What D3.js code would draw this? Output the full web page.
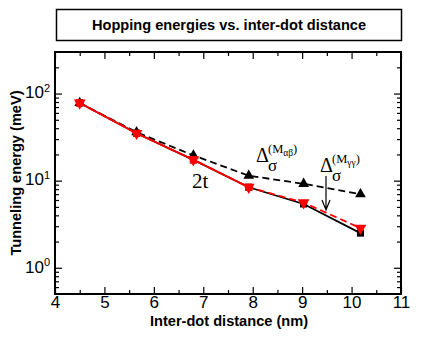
<!DOCTYPE html>
<html>
<head>
<meta charset="utf-8">
<script src="https://cdn.jsdelivr.net/npm/d3@7"></script>
<style>
  body { margin: 0; background: #fff; }
  svg { display: block; font-family: "Liberation Sans", Arial, sans-serif; }
</style>
</head>
<body>
<div id="chart"></div>
<script>
// data
const distances = [4.5, 5.65, 6.8, 7.92, 9.03, 10.18];
const twoT = [78, 35, 17.3, 8.4, 5.4, 2.5];          // black solid, squares
const twoTRed = [78, 35, 17.4, 8.4];                  // red solid, squares
const deltaGG = [78, 35, 17.4, 8.4, 5.6, 2.85];       // red dashed, down triangles
const deltaAB = [78, 36, 19.5, 11.4, 9.2, 7.0];       // black dashed, up triangles
const xTicks = [4, 5, 6, 7, 8, 9, 10, 11];
const yTicks = [1, 10, 100];
const yExp = ["0", "1", "2"];

(function () {
    const w = 448;
    const h = 346;
    const left = 55, right = 401, top = 52, bottom = 294;
    const sans = "'Liberation Sans', Arial, sans-serif";
    const serif = "'Liberation Serif', 'Times New Roman', 'DejaVu Serif', serif";

    const x = d3.scaleLinear().domain([4, 11]).range([left, right]);
    const y = d3.scaleLog().domain([0.5, 300]).range([bottom, top]);

    const svg = d3.select("#chart")
        .append("svg")
        .attr("width", w)
        .attr("height", h);

    // title box
    svg.append("rect")
        .attr("x", 56.5).attr("y", 9.5)
        .attr("width", 345).attr("height", 31)
        .attr("fill", "none").attr("stroke", "#000").attr("stroke-width", 1.5);
    svg.append("text")
        .text("Hopping energies vs. inter-dot distance")
        .attr("x", 229).attr("y", 30)
        .attr("text-anchor", "middle")
        .style("font-family", sans)
        .style("font-size", "14.6px").style("font-weight", "bold");

    // minor tick values
    const xMinor = d3.range(4.5, 11, 1);
    const yMinor = [];
    [0.1, 1, 10, 100].forEach(b => {
        for (let k = 2; k <= 9; k++) {
            const v = b * k;
            if (v > 0.5 && v < 300 && v !== 1 && v !== 10 && v !== 100) yMinor.push(v);
        }
    });

    function tickAxis(axis, g) {
        g.call(axis);
        g.select(".domain").remove();
        g.selectAll(".tick line").attr("stroke", "#000").attr("stroke-width", 1.2);
    }

    // bottom axis
    const gx = svg.append("g").attr("transform", `translate(0,${bottom})`);
    tickAxis(d3.axisBottom(x).tickValues(xTicks).tickSize(-7).tickPadding(2)
        .tickFormat(d3.format("d")), gx);
    gx.selectAll("text").attr("fill", "#000")
        .style("font-size", "17px").style("font-family", sans);
    tickAxis(d3.axisBottom(x).tickValues(xMinor).tickSize(-4).tickFormat(""),
        svg.append("g").attr("transform", `translate(0,${bottom})`));

    // top axis
    tickAxis(d3.axisTop(x).tickValues(xTicks).tickSize(-7).tickFormat(""),
        svg.append("g").attr("transform", `translate(0,${top})`));
    tickAxis(d3.axisTop(x).tickValues(xMinor).tickSize(-4).tickFormat(""),
        svg.append("g").attr("transform", `translate(0,${top})`));

    // left axis
    const gy = svg.append("g").attr("transform", `translate(${left},0)`);
    tickAxis(d3.axisLeft(y).tickValues(yTicks).tickSize(-7).tickPadding(5).tickFormat(""), gy);
    gy.selectAll(".tick text").each(function (d, i) {
        const t = d3.select(this)
            .attr("fill", "#000")
            .style("font-size", "17px").style("font-family", sans);
        t.append("tspan").text("10").attr("dy", "0.25em");
        t.append("tspan").text(yExp[i]).style("font-size", "11px").attr("dy", "-0.55em");
    });
    tickAxis(d3.axisLeft(y).tickValues(yMinor).tickSize(-4).tickFormat(""),
        svg.append("g").attr("transform", `translate(${left},0)`));

    // right axis
    tickAxis(d3.axisRight(y).tickValues(yTicks).tickSize(-7).tickFormat(""),
        svg.append("g").attr("transform", `translate(${right},0)`));
    tickAxis(d3.axisRight(y).tickValues(yMinor).tickSize(-4).tickFormat(""),
        svg.append("g").attr("transform", `translate(${right},0)`));

    // frame
    svg.append("rect")
        .attr("x", left).attr("y", top)
        .attr("width", right - left).attr("height", bottom - top)
        .attr("fill", "none").attr("stroke", "#000").attr("stroke-width", 2);

    // axis titles
    svg.append("text")
        .text("Inter-dot distance (nm)")
        .attr("x", 229).attr("y", 326)
        .attr("text-anchor", "middle")
        .style("font-family", sans)
        .style("font-size", "14.6px").style("font-weight", "bold");
    svg.append("text")
        .text("Tunneling energy (meV)")
        .attr("transform", "translate(21,173) rotate(-90)")
        .attr("text-anchor", "middle")
        .style("font-family", sans)
        .style("font-size", "14.6px").style("font-weight", "bold");

    // series
    const line = d3.line().x(d => x(d[0])).y(d => y(d[1]));
    function series(vals, color, dash, symbol, rot, size) {
        const pts = vals.map((v, i) => [distances[i], v]);
        svg.append("path")
            .attr("d", line(pts))
            .attr("fill", "none")
            .attr("stroke", color)
            .attr("stroke-width", 1.8)
            .attr("stroke-dasharray", dash);
        svg.append("g").selectAll("path")
            .data(pts)
            .enter()
            .append("path")
            .attr("d", d3.symbol().type(symbol).size(size))
            .attr("transform", d => `translate(${x(d[0])},${y(d[1])}) rotate(${rot})`)
            .attr("fill", color);
    }
    series(deltaAB, "#000", "7,4", d3.symbolTriangle, 0, 50);
    series(twoT, "#000", null, d3.symbolSquare, 0, 50);
    series(deltaGG, "#ff0000", "7,4", d3.symbolTriangle, 180, 60);
    series(twoTRed, "#ff0000", null, d3.symbolSquare, 0, 50);

    // annotations
    svg.append("text").text("2t")
        .attr("x", 192).attr("y", 188)
        .style("font-family", serif).style("font-size", "21px");

    function delta(xp, yp, sub) {
        const t = svg.append("text").attr("x", xp).attr("y", yp)
            .style("font-family", serif).style("font-size", "20px");
        t.append("tspan").text("\u0394");
        t.append("tspan").text("\u03c3").attr("dy", 9).attr("dx", -1).style("font-size", "17px");
        const s = svg.append("text").attr("x", xp + 12).attr("y", yp - 9)
            .style("font-family", serif).style("font-size", "12.5px");
        s.append("tspan").text("(M");
        s.append("tspan").text(sub).style("font-size", "9.5px").attr("dy", 3);
        s.append("tspan").text(")").style("font-size", "12.5px").attr("dy", -3);
    }
    delta(256, 162, "\u03b1\u03b2");
    delta(320, 172, "\u03b3\u03b3");

    // arrow
    svg.append("path")
        .attr("d", "M326,176 L326,210 M322,200 L326,210 L330,200")
        .attr("fill", "none").attr("stroke", "#000").attr("stroke-width", 1.2);
})();
</script>
</body>
</html>
